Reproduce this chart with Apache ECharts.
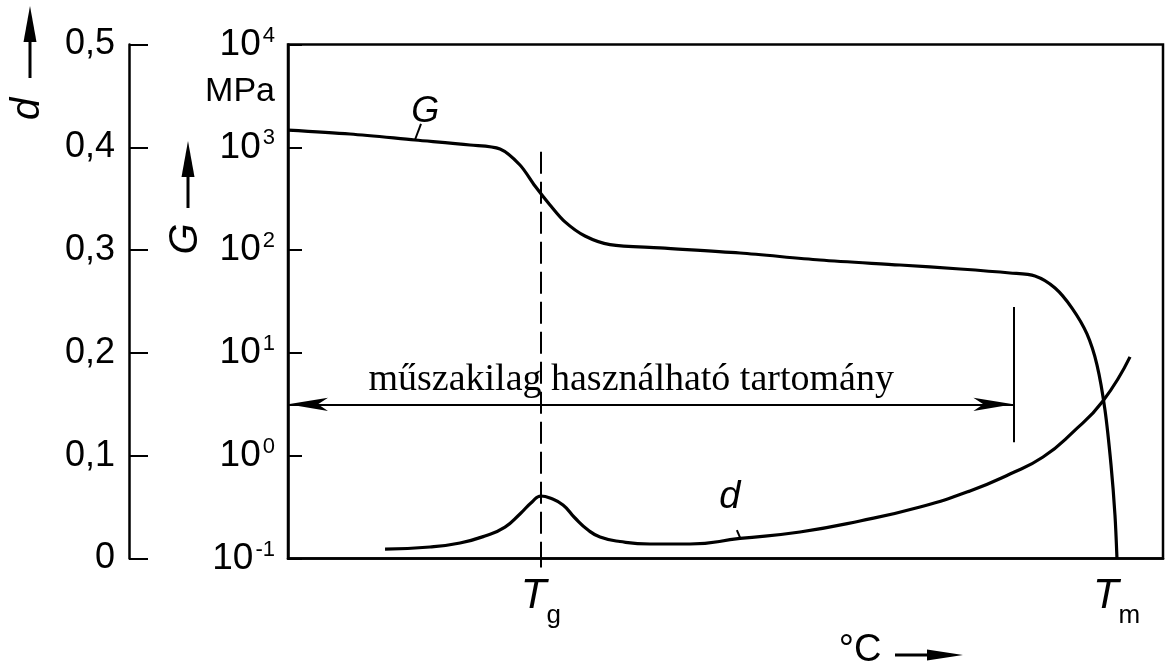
<!DOCTYPE html>
<html><head><meta charset="utf-8">
<script src="https://cdn.jsdelivr.net/npm/echarts@6/dist/echarts.min.js"></script>
<style>html,body{margin:0;padding:0;background:#fff}#c{width:1170px;height:670px}</style>
</head><body><div id="c"></div>
<script>
// relative temperature axis 0..100
const temperatureG = [0, 7.09, 14.51, 20.8, 24.23, 26.51, 28.23, 29.94, 31.66, 33.94, 36.8, 42.51, 51.66, 60.8, 69.94, 76.8, 82.51, 85.37, 87.66, 89.6, 91.31, 92.46, 93.37, 94.06, 94.51, 94.74];
const modulusG = [1472, 1347, 1178, 1053, 963, 673, 420, 275, 188, 137, 113, 105, 93.7, 80.1, 71.6, 65.5, 59.9, 56.0, 42.8, 27.3, 15.3, 7.62, 2.78, 0.812, 0.265, 0.1];
const temperatureD = [11.09, 16.23, 19.66, 22.51, 24.8, 26.51, 27.89, 28.91, 29.94, 31.43, 32.8, 34.29, 35.66, 37.94, 41.37, 45.94, 51.66, 58.51, 65.37, 72.23, 77.94, 82.51, 86.29, 89.71, 93.14, 96.23];
const dampingD = [0.0092, 0.0112, 0.0151, 0.0219, 0.0306, 0.0433, 0.0550, 0.0608, 0.0589, 0.0521, 0.0394, 0.0277, 0.0209, 0.0165, 0.0141, 0.0141, 0.0195, 0.0258, 0.0365, 0.0501, 0.0657, 0.0822, 0.0987, 0.1230, 0.1532, 0.1961];
const T_g = 28.9;
const T_m = 94.7;
const xTickLabels = { g: 'g', m: 'm' };
const rangeText = 'műszakilag használható tartomány';
const rangeStart = 0, rangeEnd = 82.9, rangeLevel = 3.16, rangeBarTop = 27.9, rangeBarBottom = 1.35;
const tgLineTop = 906;

const SANS = '"Liberation Sans Narrow", "Liberation Sans", sans-serif';
const chart = echarts.init(document.getElementById('c'));

function toPairs(xs, ys) { return xs.map((x, i) => [x, ys[i]]); }

chart.setOption({
  animation: false,
  backgroundColor: '#fff',
  grid: { left: 288, right: 7, top: 44.5, bottom: 111.5, show: true, borderColor: '#000', borderWidth: 2.5, backgroundColor: 'transparent' },
  xAxis: {
    type: 'value', min: 0, max: 100,
    axisLine: { show: true, lineStyle: { color: '#000', width: 2.5 } },
    axisTick: { show: true, customValues: [T_g], length: 9, lineStyle: { color: '#000', width: 2 } },
    splitLine: { show: false },
    axisLabel: {
      customValues: [T_g, T_m], margin: 16, color: '#000',
      formatter: v => Math.abs(v - T_g) < 1e-6 ? '{t|T}{s|' + xTickLabels.g + '}' : '{t|T}{s|' + xTickLabels.m + '}',
      rich: {
        t: { fontFamily: SANS, fontStyle: 'italic', fontSize: 42, color: '#000', lineHeight: 44 },
        s: { fontFamily: SANS, fontSize: 26, color: '#000', verticalAlign: 'bottom', lineHeight: 30, padding: [0, 0, -10, 0] }
      }
    }
  },
  yAxis: [
    {
      type: 'log', logBase: 10, min: 0.1, max: 10000, position: 'left',
      axisLine: { show: true, lineStyle: { color: '#000', width: 2.5 } },
      axisTick: { show: true, inside: true, length: 14, lineStyle: { color: '#000', width: 2 } },
      splitLine: { show: false },
      axisLabel: {
        margin: 13, color: '#000',
        formatter: v => '{b|10}{s|' + Math.round(Math.log10(v)) + '}',
        rich: {
          b: { fontFamily: SANS, fontSize: 37, color: '#000', lineHeight: 40 },
          s: { fontFamily: SANS, fontSize: 22, color: '#000', verticalAlign: 'top', lineHeight: 22, padding: [0, 0, 0, 2] }
        }
      }
    },
    {
      type: 'value', min: 0, max: 0.5, interval: 0.1, position: 'left', offset: 159,
      axisLine: { show: true, lineStyle: { color: '#000', width: 2.5 } },
      axisTick: { show: true, inside: true, length: 19, lineStyle: { color: '#000', width: 2 } },
      splitLine: { show: false },
      axisLabel: {
        margin: 14, color: '#000', fontFamily: SANS, fontSize: 36,
        formatter: v => v === 0 ? '0' : v.toFixed(1).replace('.', ',')
      }
    }
  ],
  series: [
    {
      name: 'G', type: 'line', yAxisIndex: 0, data: toPairs(temperatureG, modulusG),
      smooth: 0.3, symbol: 'none', lineStyle: { color: '#000', width: 3.2 },
      markLine: {
        silent: true, animation: false, symbol: 'none',
        label: { show: false },
        data: [
          [{ coord: [T_g, tgLineTop], lineStyle: { color: '#000', width: 2, type: [22, 8] } }, { coord: [T_g, 0.1] }],
          [{ coord: [rangeStart, rangeLevel], symbol: 'arrow', symbolSize: [10, 40], lineStyle: { color: '#000', width: 1.8, type: 'solid' },
             label: { show: true, formatter: rangeText, position: 'insideMiddleTop', distance: 5, color: '#000', fontFamily: '"Liberation Serif", serif', fontSize: 38, padding: [0, 39, 0, 0] } },
           { coord: [rangeEnd, rangeLevel], symbol: 'arrow', symbolSize: [10, 40] }],
          [{ coord: [rangeEnd, rangeBarTop], lineStyle: { color: '#000', width: 2, type: 'solid' } }, { coord: [rangeEnd, rangeBarBottom] }],
          [{ coord: [14.5, 1178], lineStyle: { color: '#000', width: 2, type: 'solid' } }, { coord: [15.2, 1686] }]
        ]
      },
      markPoint: {
        silent: true, symbol: 'circle', symbolSize: 1, itemStyle: { color: 'rgba(0,0,0,0)' },
        label: { show: true, position: 'inside', color: '#000', fontFamily: SANS, fontStyle: 'italic', fontSize: 36 },
        data: [{ coord: [15.7, 2205], value: 'G', label: { formatter: 'G' } }]
      }
    },
    {
      name: 'd', type: 'line', yAxisIndex: 1, data: toPairs(temperatureD, dampingD),
      smooth: 0.5, symbol: 'none', lineStyle: { color: '#000', width: 3.2 },
      markLine: {
        silent: true, symbol: 'none', label: { show: false },
        data: [[{ coord: [51.7, 0.0195], lineStyle: { color: '#000', width: 2, type: 'solid' } }, { coord: [51.3, 0.0277] }]]
      },
      markPoint: {
        silent: true, symbol: 'circle', symbolSize: 1, itemStyle: { color: 'rgba(0,0,0,0)' },
        label: { show: true, position: 'inside', color: '#000', fontFamily: SANS, fontStyle: 'italic', fontSize: 38 },
        data: [{ coord: [50.5, 0.0598], value: 'd', label: { formatter: 'd' } }]
      }
    }
  ],
  graphic: [
    { type: 'text', x: 28, y: 109, rotation: Math.PI / 2, style: { text: 'd', font: 'italic 40px ' + SANS, fill: '#000', align: 'center', verticalAlign: 'middle' } },
    { type: 'line', shape: { x1: 30, y1: 78, x2: 30, y2: 36 }, style: { stroke: '#000', lineWidth: 3 } },
    { type: 'polygon', shape: { points: [[30, 6], [23.5, 42], [36.5, 42]] }, style: { fill: '#000' } },
    { type: 'text', x: 186, y: 239, rotation: Math.PI / 2, style: { text: 'G', font: 'italic 40px ' + SANS, fill: '#000', align: 'center', verticalAlign: 'middle' } },
    { type: 'line', shape: { x1: 188, y1: 208, x2: 188, y2: 172 }, style: { stroke: '#000', lineWidth: 3 } },
    { type: 'polygon', shape: { points: [[188, 141], [181.5, 177], [194.5, 177]] }, style: { fill: '#000' } },
    { type: 'text', x: 275, y: 92, style: { text: 'MPa', font: '34px ' + SANS, fill: '#000', align: 'right', verticalAlign: 'middle' } },
    { type: 'text', x: 860, y: 651, style: { text: '°C', font: '38px ' + SANS, fill: '#000', align: 'center', verticalAlign: 'middle' } },
    { type: 'line', shape: { x1: 895, y1: 655, x2: 932, y2: 655 }, style: { stroke: '#000', lineWidth: 3 } },
    { type: 'polygon', shape: { points: [[963, 655], [927, 649.5], [927, 660.5]] }, style: { fill: '#000' } }
  ]
});
</script></body></html>
